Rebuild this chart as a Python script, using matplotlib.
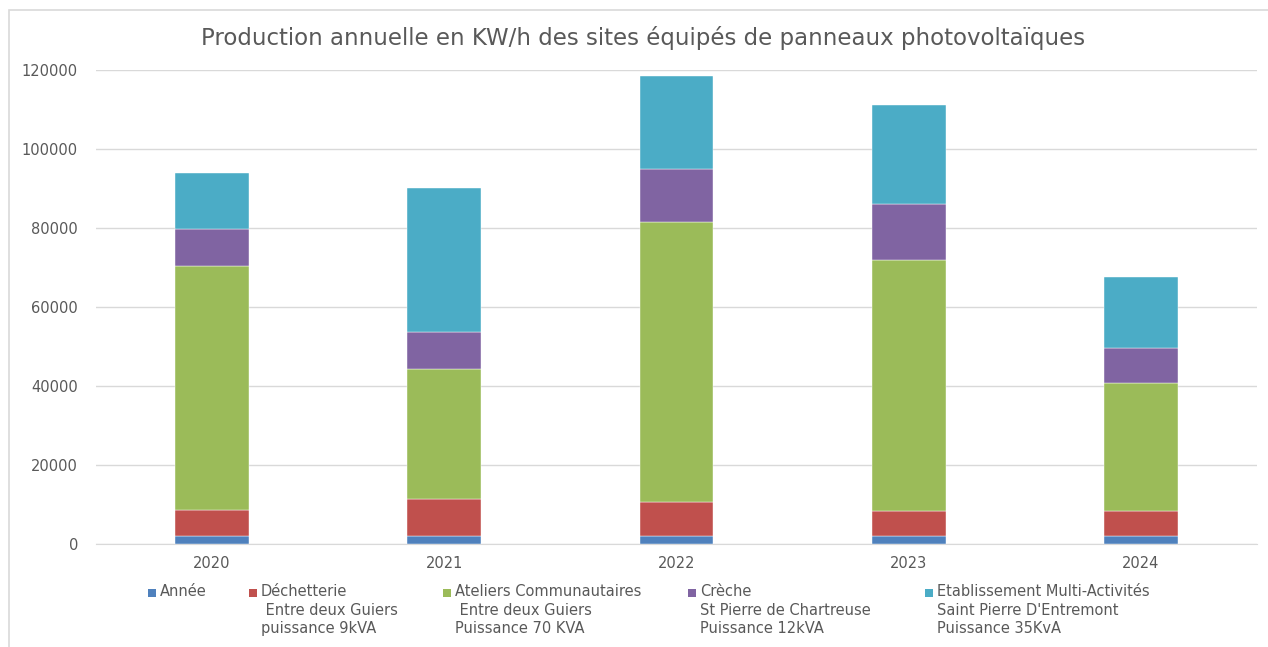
import numpy as np
import matplotlib.pyplot as plt
from matplotlib.patches import Rectangle

plt.rcParams["font.family"] = ["DejaVu Sans"]

W, H = 1268, 647

# données
categories = ["2020", "2021", "2022", "2023", "2024"]
annee = [2020, 2021, 2022, 2023, 2024]
dechetterie = [6500, 9300, 8600, 6400, 6250]
ateliers = [61900, 33100, 71000, 63500, 32400]
creche = [9250, 9300, 13350, 14250, 9000]
etablissement = [14300, 36500, 23550, 25050, 17950]

labels = [
    "Année",
    "Déchetterie\n Entre deux Guiers\npuissance 9kVA",
    "Ateliers Communautaires\n Entre deux Guiers\nPuissance 70 KVA",
    "Crèche\nSt Pierre de Chartreuse\nPuissance 12kVA",
    "Etablissement Multi-Activités\nSaint Pierre D'Entremont\nPuissance 35KvA",
]
couleurs = ["#4F81BD", "#C0504D", "#9BBB59", "#8064A2", "#4BACC6"]
series = [annee, dechetterie, ateliers, creche, etablissement]

fig = plt.figure(figsize=(W / 100, H / 100), dpi=100)
ax = fig.add_axes([96 / W, 103 / H, 1161 / W, 474 / H])

# cadre du graphique
fig.patches.append(Rectangle((9 / W, -0.1), 1.2, (H - 10) / H + 0.1,
                             transform=fig.transFigure, fill=False,
                             edgecolor="#D9D9D9", linewidth=1.2))

x = np.arange(len(categories))
bottom = np.zeros(len(categories))
for valeurs, couleur, label in zip(series, couleurs, labels):
    ax.bar(x, valeurs, width=0.318, bottom=bottom, color=couleur,
           edgecolor="white", linewidth=0.3, label=label, zorder=3)
    bottom += np.array(valeurs)

ax.set_xlim(-0.5, 4.5)
ax.set_ylim(0, 120000)
ax.set_yticks(np.arange(0, 120001, 20000))
ax.set_xticks(x)
ax.set_xticklabels(categories)

ax.grid(axis="y", color="#D9D9D9", linewidth=1, zorder=0)
for s in ["top", "right", "left"]:
    ax.spines[s].set_visible(False)
ax.spines["bottom"].set_color("#D9D9D9")
ax.tick_params(axis="both", length=0, labelsize=10.5, colors="#595959")
ax.tick_params(axis="y", pad=13)
ax.tick_params(axis="x", pad=9)

fig.text(643 / W, 1 - 38 / H,
         "Production annuelle en KW/h des sites équipés de panneaux photovoltaïques",
         ha="center", va="center", fontsize=16.5, color="#595959")

# légende (marqueur aligné sur la première ligne)
leg_x = [148, 249, 443, 688, 925]
for lx, couleur, label in zip(leg_x, couleurs, labels):
    fig.patches.append(Rectangle((lx / W, 1 - 597 / H), 8 / W, 8 / H,
                                 transform=fig.transFigure,
                                 facecolor=couleur, edgecolor="none"))
    fig.text((lx + 12) / W, 1 - 584 / H, label, ha="left", va="top",
             fontsize=10.5, color="#595959", linespacing=1.3)

fig.savefig("out.png", dpi=100)
